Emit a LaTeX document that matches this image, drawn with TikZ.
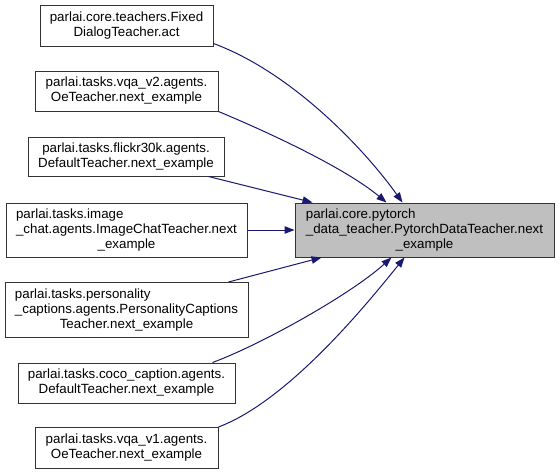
\documentclass[tikz,border=0pt]{standalone}
\usepackage{fontspec}
\setmainfont{Liberation Sans}
\usetikzlibrary{arrows.meta, calc}

\definecolor{edgeblue}{HTML}{191970}
\definecolor{targetgray}{HTML}{BFBFBF}
\newdimen\dpx \dpx=0.75pt
\newcommand{\lastc}[1]{\multicolumn{1}{@{}c@{}}{#1}}

\begin{document}
\begin{tikzpicture}[x=0.75pt, y=-0.75pt, >={Triangle[length=7.5pt, width=5.6pt]},
    every node/.style={font=\fontsize{10}{11.25}\selectfont},
    fn/.style={draw=black!80, line width=0.75pt, fill=white, inner sep=0pt, align=center},
    tgt/.style={fn, fill=targetgray},
    edge/.style={->, edgeblue, line width=0.75pt}]
    \useasboundingbox (0,0) rectangle (559,475);

    % Funcion llamada
    \node[tgt, minimum width=259\dpx, minimum height=54\dpx] (t) at (424.5,230)
        {\begin{tabular}{@{}l@{}}parlai.core.pytorch\\\_data\_teacher.PytorchDataTeacher.next\\\lastc{\_example}\end{tabular}};

    % Funciones que llaman
    \node[fn, minimum width=173\dpx, minimum height=41\dpx] (n1) at (126.5,25.5)
        {parlai.core.teachers.Fixed\\DialogTeacher.act};
    \node[fn, minimum width=183\dpx, minimum height=40\dpx] (n2) at (126.5,91)
        {parlai.tasks.vqa\_v2.agents.\\OeTeacher.next\_example};
    \node[fn, minimum width=196\dpx, minimum height=39\dpx] (n3) at (126,156.5)
        {parlai.tasks.flickr30k.agents.\\DefaultTeacher.next\_example};
    \node[fn, minimum width=241\dpx, minimum height=54\dpx] (n4) at (126.5,230)
        {\begin{tabular}{@{}l@{}}parlai.tasks.image\\\_chat.agents.ImageChatTeacher.next\\\lastc{\_example}\end{tabular}};
    \node[fn, minimum width=243\dpx, minimum height=55\dpx] (n5) at (126.5,310)
        {\begin{tabular}{@{}l@{}}parlai.tasks.personality\\\_captions.agents.PersonalityCaptions\\\lastc{Teacher.next\_example}\end{tabular}};
    \node[fn, minimum width=217\dpx, minimum height=40\dpx] (n6) at (126.5,383)
        {parlai.tasks.coco\_caption.agents.\\DefaultTeacher.next\_example};
    \node[fn, minimum width=183\dpx, minimum height=41\dpx] (n7) at (126.5,448)
        {parlai.tasks.vqa\_v1.agents.\\OeTeacher.next\_example};

    % Llamadas
    \draw[edge] ($(n1.south east)+(0,-3)$) .. controls (293,73) and (365,150) .. ($(t.north west)+(108,0)$);
    \draw[edge] (n2.south east) .. controls (270,133) and (345,168) .. ($(t.north west)+(92,0)$);
    \draw[edge] ($(n3.south east)+(-16,0)$) -- ($(t.north west)+(18,0)$);
    \draw[edge] (n4.east) -- (t.west);
    \draw[edge] ($(n5.north east)+(-20,0)$) -- ($(t.south west)+(27,0)$);
    \draw[edge] ($(n6.north east)+(-23,0)$) .. controls (260,345) and (350,295) .. ($(t.south west)+(97,0)$);
    \draw[edge] (n7.north east) .. controls (290,400) and (370,300) .. ($(t.south west)+(110,0)$);
\end{tikzpicture}
\end{document}
